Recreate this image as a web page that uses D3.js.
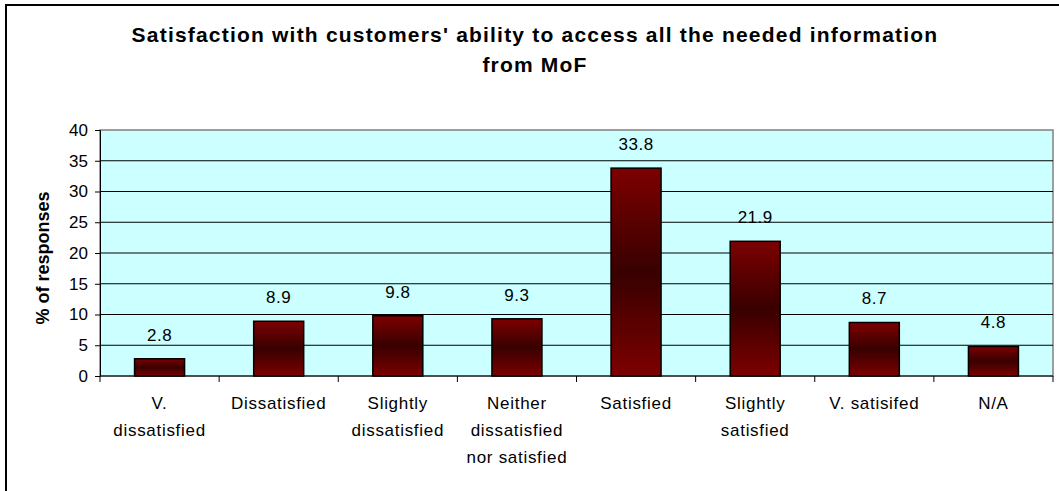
<!DOCTYPE html>
<html><head><meta charset="utf-8">
<script src="https://cdn.jsdelivr.net/npm/d3@7"></script>
<style>body{margin:0;background:#fff}svg{display:block}</style>
</head><body><svg id="c" width="1059" height="491"></svg>
<script>
const categories = [["V.","dissatisfied"],["Dissatisfied"],["Slightly","dissatisfied"],["Neither","dissatisfied","nor satisfied"],["Satisfied"],["Slightly","satisfied"],["V. satisifed"],["N/A"]];
const values = [2.8, 8.9, 9.8, 9.3, 33.8, 21.9, 8.7, 4.8];
const yTicks = [0,5,10,15,20,25,30,35,40];
const titleLines = ["Satisfaction with customers' ability to access all the needed information","from MoF"];
const yLabel = "% of responses";

const FF = "Arial, 'Liberation Sans', sans-serif";
const svg = d3.select("#c");
const m = {left:100, top:130, right:1053, bottom:376};
const keys = categories.map((c,i)=>i);
const x = d3.scaleBand().domain(keys).range([m.left,m.right]).paddingInner(0).paddingOuter(0);
const y = d3.scaleLinear().domain([0,40]).range([m.bottom,m.top]);

// outer border
svg.append("rect").attr("x",6).attr("y",5).attr("width",1100).attr("height",600)
  .attr("fill","#fff").attr("stroke","#000").attr("stroke-width",2);

const defs = svg.append("defs");
const g = defs.append("linearGradient").attr("id","bg").attr("x1",0).attr("y1",0).attr("x2",0).attr("y2",1);
g.append("stop").attr("offset","0%").attr("stop-color","#7d0000");
g.append("stop").attr("offset","50%").attr("stop-color","#380000");
g.append("stop").attr("offset","100%").attr("stop-color","#7d0000");

// plot area
svg.append("rect").attr("x",m.left).attr("y",m.top).attr("width",m.right-m.left).attr("height",m.bottom-m.top)
  .attr("fill","#ccffff").attr("stroke","#808080").attr("stroke-width",1.5);

// gridlines
svg.append("g").selectAll("line").data(yTicks.filter(t=>t>0&&t<40)).join("line")
  .attr("x1",m.left).attr("x2",m.right).attr("y1",d=>y(d)).attr("y2",d=>y(d))
  .attr("stroke","#000").attr("stroke-width",1);

// y axis
const ya = svg.append("g").attr("transform",`translate(${m.left},0)`)
  .call(d3.axisLeft(y).tickValues(yTicks).tickSize(5).tickPadding(7));
ya.select(".domain").attr("stroke","#000");
ya.selectAll("line").attr("stroke","#000");
ya.selectAll("text").attr("font-family",FF).attr("font-size",17).attr("fill","#000");

// x axis
const xa = svg.append("g").attr("transform",`translate(0,${m.bottom})`);
xa.append("line").attr("x1",m.left).attr("x2",m.right).attr("stroke","#000");
xa.selectAll("line.t").data(d3.range(categories.length+1)).join("line").attr("class","t")
  .attr("x1",i=>m.left+i*x.bandwidth()).attr("x2",i=>m.left+i*x.bandwidth()).attr("y1",0).attr("y2",6).attr("stroke","#000");

const lab = svg.append("g").selectAll("text").data(categories).join("text")
  .attr("text-anchor","middle").attr("font-family",FF).attr("font-size",17).attr("letter-spacing",0.7).attr("fill","#000")
  .attr("transform",(d,i)=>`translate(${x(i)+x.bandwidth()/2},409)`);
lab.selectAll("tspan").data(d=>d).join("tspan").attr("x",0).attr("y",(d,j)=>j*27).text(d=>d);

// bars
const bw = 50;
svg.append("g").selectAll("rect").data(values).join("rect")
  .attr("x",(d,i)=>x(i)+x.bandwidth()/2-bw/2).attr("width",bw)
  .attr("y",d=>y(d)).attr("height",d=>y(0)-y(d))
  .attr("fill","url(#bg)").attr("stroke","#000").attr("stroke-width",1.5);

// value labels
svg.append("g").selectAll("text").data(values).join("text")
  .attr("x",(d,i)=>x(i)+x.bandwidth()/2).attr("y",d=>y(d)-18)
  .attr("text-anchor","middle").attr("font-family",FF).attr("font-size",17).attr("letter-spacing",0.5).attr("fill","#000")
  .text(d=>d.toFixed(1));

// title
svg.append("g").selectAll("text").data(titleLines).join("text")
  .attr("x",535).attr("y",(d,i)=>42+i*30).attr("text-anchor","middle")
  .attr("font-family",FF).attr("font-weight","bold").attr("font-size",21).attr("letter-spacing",1.2).attr("fill","#000")
  .text(d=>d);

// y label
svg.append("text").attr("transform",`translate(49,258) rotate(-90)`)
  .attr("text-anchor","middle").attr("font-family",FF).attr("font-weight","bold").attr("font-size",18)
  .text(yLabel);
</script></body></html>
